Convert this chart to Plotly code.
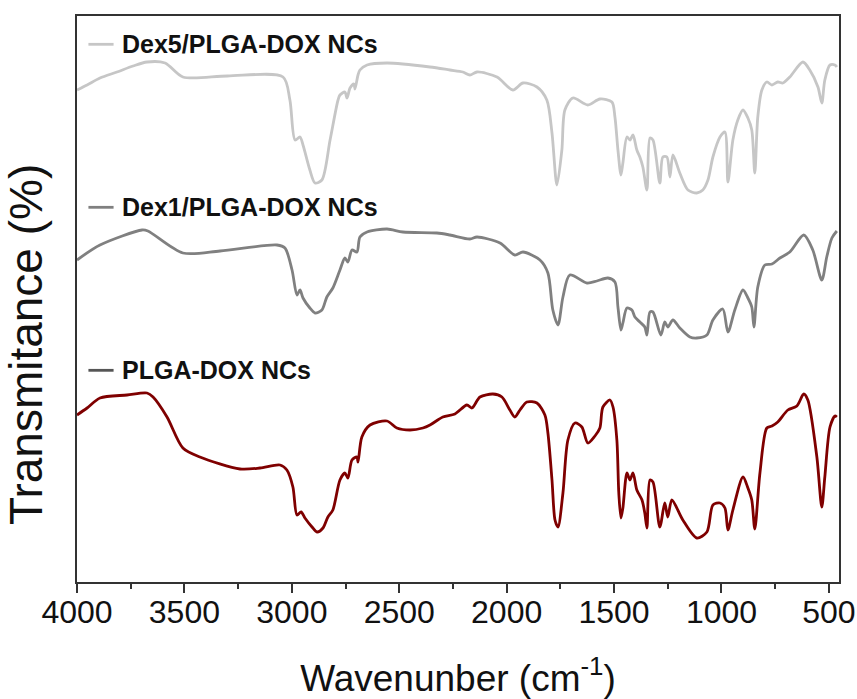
import plotly.graph_objects as go

# Wavenumbers (cm-1) and offset transmittance (arbitrary units)
wn_dex5 = [4000, 3953, 3893, 3814, 3739, 3674, 3590, 3507, 3300, 3041, 3009, 2985, 2962, 2948, 2916, 2892,
           2860, 2822, 2785, 2776, 2753, 2743, 2729, 2711, 2706, 2692, 2683, 2650, 2557, 2357, 2264, 2204,
           2171, 2138, 2045, 1971, 1924, 1859, 1813, 1789, 1766, 1743, 1729, 1692, 1622, 1566, 1510, 1496,
           1482, 1468, 1459, 1440, 1426, 1412, 1394, 1380, 1366, 1347, 1333, 1319, 1287, 1273, 1254, 1240,
           1226, 1194, 1156, 1115, 1087, 1063, 1040, 1007, 984, 970, 947, 924, 900, 877, 859, 845, 831, 812,
           789, 765, 738, 714, 682, 621, 589, 551, 533, 519, 495, 472, 463]
t_dex5 = [98.4, 99.4, 100.8, 102.0, 103.2, 104.0, 103.8, 101.0, 101.2, 101.0, 96.4, 88.4, 89.0, 87.4, 82.4, 79.8,
          80.4, 88.4, 96.4, 97.4, 98.0, 96.8, 98.8, 99.6, 98.6, 101.4, 102.4, 103.4, 103.8, 103.0, 102.4, 102.0,
          101.4, 102.0, 101.0, 98.4, 99.8, 99.0, 96.4, 89.8, 79.4, 86.4, 94.4, 96.8, 95.4, 96.6, 96.0, 93.0,
          86.4, 81.4, 83.8, 89.0, 88.4, 89.4, 86.4, 85.0, 83.0, 78.4, 88.8, 88.4, 79.8, 85.0, 85.0, 81.0,
          85.4, 81.8, 78.4, 77.8, 78.4, 80.4, 85.0, 89.0, 90.0, 80.0, 88.4, 92.4, 94.4, 92.8, 90.4, 81.8, 93.0, 98.4,
          100.0, 99.4, 100.0, 99.8, 101.0, 104.0, 102.4, 99.0, 95.8, 100.4, 103.4, 103.4, 103.0]

wn_dex1 = [4000, 3893, 3697, 3670, 3507, 3334, 3069, 3032, 2999, 2976, 2962, 2948, 2916, 2892, 2860, 2837,
           2809, 2776, 2753, 2739, 2720, 2697, 2683, 2650, 2557, 2483, 2325, 2264, 2171, 2138, 2031, 1962,
           1924, 1845, 1808, 1785, 1761, 1738, 1706, 1626, 1580, 1529, 1496, 1482, 1468, 1459, 1440, 1417,
           1403, 1380, 1357, 1347, 1333, 1319, 1282, 1264, 1250, 1226, 1194, 1147, 1115, 1068, 1040, 994,
           970, 938, 900, 877, 859, 849, 831, 798, 765, 728, 682, 617, 575, 533, 510, 486, 463]
t_dex1 = [64.4, 67.4, 70.4, 70.2, 65.8, 66.2, 67.4, 66.8, 62.4, 57.4, 58.4, 56.8, 54.8, 53.8, 54.4, 57.0,
          58.8, 62.4, 64.8, 64.0, 66.4, 66.0, 69.0, 70.0, 70.6, 70.0, 69.8, 69.4, 68.6, 69.0, 67.8, 65.4,
          66.0, 64.4, 61.8, 54.4, 51.4, 57.0, 61.4, 59.8, 60.2, 60.8, 60.0, 55.0, 50.4, 51.8, 54.8, 54.4,
          53.0, 52.0, 51.0, 49.4, 54.0, 54.0, 49.4, 52.0, 51.0, 52.4, 50.8, 49.0, 48.8, 49.4, 52.4, 54.6,
          50.0, 54.4, 58.4, 56.8, 55.0, 51.0, 59.0, 63.4, 63.6, 64.8, 66.0, 69.4, 66.4, 60.4, 65.0, 68.8, 70.2]

wn_plga = [4000, 3953, 3893, 3767, 3674, 3646, 3581, 3507, 3428, 3241, 3148, 3055, 3023, 2995, 2976, 2957,
           2939, 2906, 2883, 2855, 2832, 2809, 2776, 2753, 2739, 2720, 2697, 2692, 2674, 2636, 2557, 2511,
           2450, 2390, 2357, 2297, 2241, 2185, 2162, 2124, 2064, 2022, 1985, 1962, 1938, 1906, 1859, 1822,
           1808, 1789, 1775, 1761, 1738, 1715, 1682, 1650, 1622, 1589, 1566, 1552, 1519, 1505, 1487, 1478,
           1468, 1459, 1440, 1426, 1412, 1394, 1370, 1357, 1347, 1333, 1319, 1287, 1264, 1250, 1231, 1180,
           1115, 1068, 1040, 1007, 984, 970, 947, 900, 877, 859, 845, 821, 789, 765, 738, 691, 649, 617,
           598, 556, 533, 519, 495, 472, 463]
t_plga = [33.4, 34.8, 36.8, 37.4, 37.8, 37.0, 33.0, 26.8, 25.0, 22.6, 22.8, 23.4, 22.4, 19.0, 13.4, 14.0,
          12.8, 11.0, 10.0, 10.8, 13.0, 14.4, 20.4, 21.8, 20.8, 24.4, 25.0, 24.0, 29.0, 31.4, 32.2, 30.8,
          30.4, 30.8, 31.4, 33.0, 33.6, 35.4, 34.8, 37.0, 37.6, 37.0, 34.4, 33.0, 34.4, 36.0, 35.8, 33.4,
          29.8, 20.4, 12.4, 11.0, 17.8, 28.4, 31.8, 31.0, 27.8, 29.2, 30.8, 35.0, 36.4, 35.0, 28.4, 17.8,
          12.8, 14.8, 21.8, 20.4, 21.8, 18.4, 16.4, 13.8, 10.8, 20.4, 20.0, 11.0, 15.8, 13.0, 16.4, 12.4,
          8.8, 10.0, 15.4, 15.8, 14.8, 10.4, 14.4, 21.0, 18.8, 16.4, 10.6, 21.8, 30.8, 31.2, 32.0, 34.4, 35.2, 37.6,
          36.4, 25.0, 15.0, 21.0, 31.0, 33.2, 33.0]

series_names = ["Dex5/PLGA-DOX NCs", "Dex1/PLGA-DOX NCs", "PLGA-DOX NCs"]
line_colors = ["#c6c6c6", "#808080", "#7f0000"]
legend_colors = ["#c6c6c6", "#808080", "#555555"]
legend_y = [0.95, 0.662, 0.374]

x_ticks = [4000, 3500, 3000, 2500, 2000, 1500, 1000, 500]

FONT = "Arial, Liberation Sans, sans-serif"

fig = go.Figure()
for wn, t, c, name in zip([wn_dex5, wn_dex1, wn_plga], [t_dex5, t_dex1, t_plga], line_colors, series_names):
    fig.add_trace(go.Scatter(x=wn, y=t, mode="lines", name=name,
                             line=dict(color=c, width=2.8, shape="spline", smoothing=0.8),
                             showlegend=False))

for name, c, ly in zip(series_names, legend_colors, legend_y):
    fig.add_shape(type="line", xref="paper", yref="paper", x0=0.015, x1=0.048, y0=ly, y1=ly,
                  line=dict(color=c, width=2.8))
    fig.add_annotation(text="<b>%s</b>" % name, xref="paper", yref="paper", x=0.056, y=ly,
                       xanchor="left", yanchor="middle", showarrow=False,
                       font=dict(family=FONT, size=25, color="#111111"))

fig.add_annotation(text="Transmitance (%)", xref="paper", yref="paper", x=-0.066, y=0.42,
                   xanchor="center", yanchor="middle", textangle=-90, showarrow=False,
                   font=dict(family=FONT, size=46, color="#111111"))

fig.update_layout(
    width=857, height=699,
    margin=dict(l=77, r=18, t=16, b=117),
    paper_bgcolor="white", plot_bgcolor="white",
    font=dict(family=FONT, color="#111111"),
    xaxis=dict(range=[4000, 453], tickvals=x_ticks, ticktext=[str(v) for v in x_ticks],
               automargin=False,
               ticks="outside", ticklen=9, tickwidth=1.5, tickcolor="#333333",
               minor=dict(dtick=250, tick0=0, ticks="outside", ticklen=5, tickwidth=1.5, tickcolor="#333333"),
               showgrid=False, zeroline=False, showline=True, mirror=True, linecolor="#333333", linewidth=2,
               tickfont=dict(family=FONT, size=32, color="#111111"),
               ticklabelstandoff=-8,
               title=dict(text="Wavenunber (cm<sup>-1</sup>)", font=dict(family=FONT, size=37, color="#111111"),
                          standoff=37)),
    yaxis=dict(range=[0, 113.2], showticklabels=False, ticks="", showgrid=False, zeroline=False,
               automargin=False,
               showline=True, mirror=True, linecolor="#333333", linewidth=2),
)

fig.write_html("out.html", config={"displayModeBar": False},
               post_script="document.body.style.margin='0';document.body.style.overflow='hidden';")
